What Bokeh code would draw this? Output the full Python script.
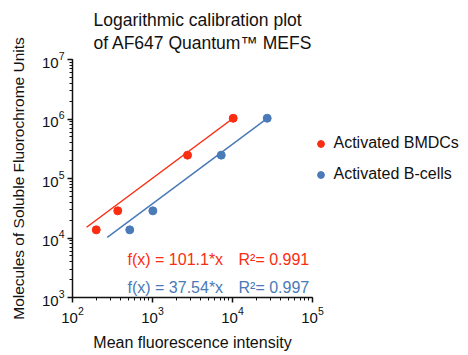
from bokeh.plotting import figure
from bokeh.models import Range1d, Label, Legend, LegendItem, LogTicker
from bokeh.embed import file_html
from bokeh.resources import INLINE

# Bead calibration: MEFS values of the bead populations
mefs = [13700, 28600, 247000, 1030000]

# Measured mean fluorescence intensities per cell type
bmdc_mfi = [198, 368, 2740, 10200]
bcell_mfi = [520, 1010, 7230, 27150]

# Linear fits through the origin
bmdc_slope = 101.1
bmdc_r2 = 0.991
bcell_slope = 37.54
bcell_r2 = 0.997
bmdc_fit_x = [150, 9700]
bcell_fit_x = [272, 25900]

RED = "#FA2D12"
BLUE = "#4A7AB8"
INK = "#111111"
FONT = "Liberation Sans"

W, H = 468, 355
FL, FT, FB = 72, 59, 297          # frame edges in canvas pixels
AXIS_W = 240                      # 10^2 .. 10^5 spans 240 px
PX_PER_DECADE_X = AXIS_W / 3
X_AXIS_BOUNDS = (1e2, 1e5)
Y_AXIS_BOUNDS = (1e3, 1e7)

# The frame reaches the right edge so the legend can sit beside the axes;
# the axis itself is limited to 10^2..10^5 with bounds.
x_end = 10 ** (2 + (W - FL) / PX_PER_DECADE_X)

p = figure(width=W, height=H, x_axis_type="log", y_axis_type="log",
           x_range=Range1d(1e2, x_end), y_range=Range1d(*Y_AXIS_BOUNDS),
           output_backend="svg", toolbar_location=None,
           min_border_left=FL, min_border_right=0,
           min_border_top=FT, min_border_bottom=H - FB)
p.outline_line_color = None
p.grid.visible = False
p.background_fill_color = "white"
p.border_fill_color = "white"

# Title, two lines, left aligned
p.title.text = "Logarithmic calibration plot\nof AF647 Quantum\u2122 MEFS"
p.title.text_font = FONT
p.title.text_font_size = "17.5px"
p.title.text_font_style = "normal"
p.title.text_line_height = 1.15
p.title.text_color = INK
p.title.align = "left"
p.title.offset = 21
p.title.standoff = 14

for ax in (p.xaxis[0], p.yaxis[0]):
    ax.ticker = LogTicker(num_minor_ticks=10)
    ax.axis_line_width = 1.5
    ax.axis_line_color = INK
    ax.major_tick_line_color = INK
    ax.major_tick_line_width = 1.5
    ax.minor_tick_line_color = INK
    ax.major_tick_in = 0
    ax.major_tick_out = 5
    ax.minor_tick_in = 0
    ax.minor_tick_out = 3
    ax.major_label_text_font = FONT
    ax.major_label_text_font_size = "15px"
    ax.major_label_text_color = INK
    ax.axis_label_text_font = FONT
    ax.axis_label_text_font_style = "normal"
    ax.axis_label_text_color = INK

p.xaxis.bounds = X_AXIS_BOUNDS
p.yaxis.bounds = Y_AXIS_BOUNDS
p.yaxis.axis_label = "Molecules of Soluble Fluorochrome Units"
p.yaxis.axis_label_text_font_size = "15.5px"
p.xaxis.major_label_standoff = 4
p.yaxis.major_label_standoff = 3
p.yaxis.axis_label_standoff = 12

# x-axis title, centred under the bounded axis
p.add_layout(Label(x=AXIS_W / 2, y=-8, x_units="screen", y_units="screen",
                   text="Mean fluorescence intensity", text_font=FONT,
                   text_font_size="16px", text_color=INK,
                   text_align="center", text_baseline="bottom"), "below")

# Fit lines
p.line(bmdc_fit_x, [bmdc_slope * x for x in bmdc_fit_x], color=RED, line_width=1.5)
p.line(bcell_fit_x, [bcell_slope * x for x in bcell_fit_x], color=BLUE, line_width=1.5)

# Data points
r_bmdc = p.scatter(bmdc_mfi, mefs, size=8, color=RED)
r_bcell = p.scatter(bcell_mfi, mefs, size=8, color=BLUE)

legend = Legend(items=[LegendItem(label="Activated BMDCs", renderers=[r_bmdc]),
                       LegendItem(label="Activated B-cells", renderers=[r_bcell])],
                location=(239.5, 113), orientation="vertical",
                glyph_width=17, glyph_height=17, label_height=20,
                spacing=11, padding=0, margin=0, label_standoff=5,
                border_line_color=None, background_fill_alpha=0,
                label_text_font=FONT, label_text_font_size="16px",
                label_text_color=INK)
p.add_layout(legend)


def put(text, px, py, color):
    """Place baseline-anchored text at canvas pixel (px, py) inside the frame."""
    p.add_layout(Label(x=px - FL, y=FB - py, x_units="screen", y_units="screen",
                       text=text, text_font=FONT, text_font_size="16px",
                       text_color=color, text_align="left",
                       text_baseline="alphabetic"))


put(f"f(x) = {bmdc_slope}*x", 127, 259, RED)
put(f"R\u00b2= {bmdc_r2}", 238, 259, RED)
put(f"f(x) = {bcell_slope}*x", 127, 287, BLUE)
put(f"R\u00b2= {bcell_r2}", 238, 287, BLUE)

open("out.html", "w").write(file_html(p, INLINE))
